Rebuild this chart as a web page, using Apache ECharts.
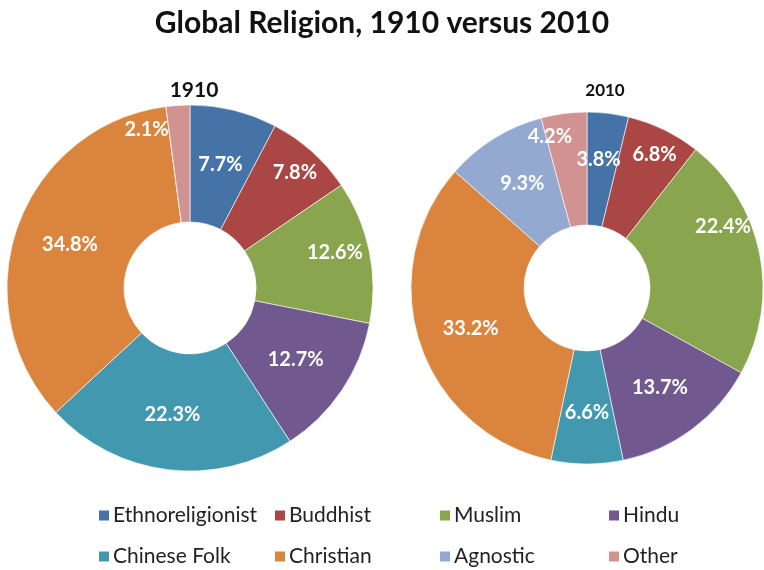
<!DOCTYPE html>
<html>
<head>
<meta charset="utf-8">
<script src="https://cdn.jsdelivr.net/npm/echarts@6/dist/echarts.min.js"></script>
<style>html,body{margin:0;padding:0;background:#fff;}#main{width:764px;height:570px;}</style>
</head>
<body>
<div id="main"></div>
<script>
const categories = ['Ethnoreligionist', 'Buddhist', 'Muslim', 'Hindu', 'Chinese Folk', 'Christian', 'Agnostic', 'Other'];
const values1910 = [7.7, 7.8, 12.6, 12.7, 22.3, 34.8, 0, 2.1];
const values2010 = [3.8, 6.8, 22.4, 13.7, 6.6, 33.2, 9.3, 4.2];
const colors = ['#4572A7', '#AA4643', '#89A54E', '#71588F', '#4198AF', '#DB843D', '#93A9CF', '#D19392'];
const chartTitle = 'Global Religion, 1910 versus 2010';
const pieTitles = ['1910', '2010'];

// label nudges (style only), matching the reference's "best fit" label placement
const labelOffsets1910 = [[0, 0], [20, -20], [20, -10], [0, 0], [-2, 0], [0, 0], [0, 0], [-35, -31]];
const labelOffsets2010 = [[-3, -7], [14, -23], [16, -37], [0, 1], [0, 2], [0, 2], [0, 0], [-21, -30]];

const FONT = 'Lato';
const chart = echarts.init(document.getElementById('main'), null, {renderer: 'canvas'});

function mkData(vals, offs) {
  return categories.map((c, i) => ({name: c, value: vals[i], label: {offset: offs[i]}}));
}
const labelCfg = {
  show: true,
  position: 'inside',
  color: '#fff',
  fontFamily: FONT,
  fontWeight: 'bold',
  fontSize: 20,
  formatter: p => p.value ? p.value.toFixed(1) + '%' : ''
};

const legendCols = [97, 273, 438, 607];
const legendRows = [517, 558];
const legends = categories.map((c, i) => ({
  data: [c],
  left: legendCols[i % 4],
  top: legendRows[Math.floor(i / 4)] - 12,
  padding: 0,
  itemWidth: 12,
  itemHeight: 12,
  itemGap: 4,
  icon: 'rect',
  selectedMode: false,
  textStyle: {fontFamily: FONT, fontSize: 21, color: '#222', padding: [0, 0, 0, -2]}
}));

chart.setOption({
  animation: false,
  color: colors,
  title: [
    {text: chartTitle, left: 'center', top: 3,
     textStyle: {fontFamily: FONT, fontWeight: 'bold', fontSize: 30, color: '#111'}},
    {text: pieTitles[0], left: 189, top: 75, textAlign: 'center',
     textStyle: {fontFamily: FONT, fontWeight: 'bold', fontSize: 21, color: '#111'}},
    {text: pieTitles[1], left: 600, top: 77, textAlign: 'center',
     textStyle: {fontFamily: FONT, fontWeight: 'bold', fontSize: 17, color: '#111'}}
  ],
  legend: legends,
  series: [
    {type: 'pie', name: pieTitles[0], center: [190, 288], radius: [66, 183],
     startAngle: 90, clockwise: true, avoidLabelOverlap: false,
     labelLayout: {hideOverlap: false},
     itemStyle: {borderColor: '#fff', borderWidth: 0.6},
     label: labelCfg, labelLine: {show: false},
     data: mkData(values1910, labelOffsets1910)},
    {type: 'pie', name: pieTitles[1], center: [587, 288], radius: [63, 176],
     startAngle: 90, clockwise: true, avoidLabelOverlap: false,
     labelLayout: {hideOverlap: false},
     itemStyle: {borderColor: '#fff', borderWidth: 0.6},
     label: labelCfg, labelLine: {show: false},
     data: mkData(values2010, labelOffsets2010)}
  ]
});
</script>
</body>
</html>
